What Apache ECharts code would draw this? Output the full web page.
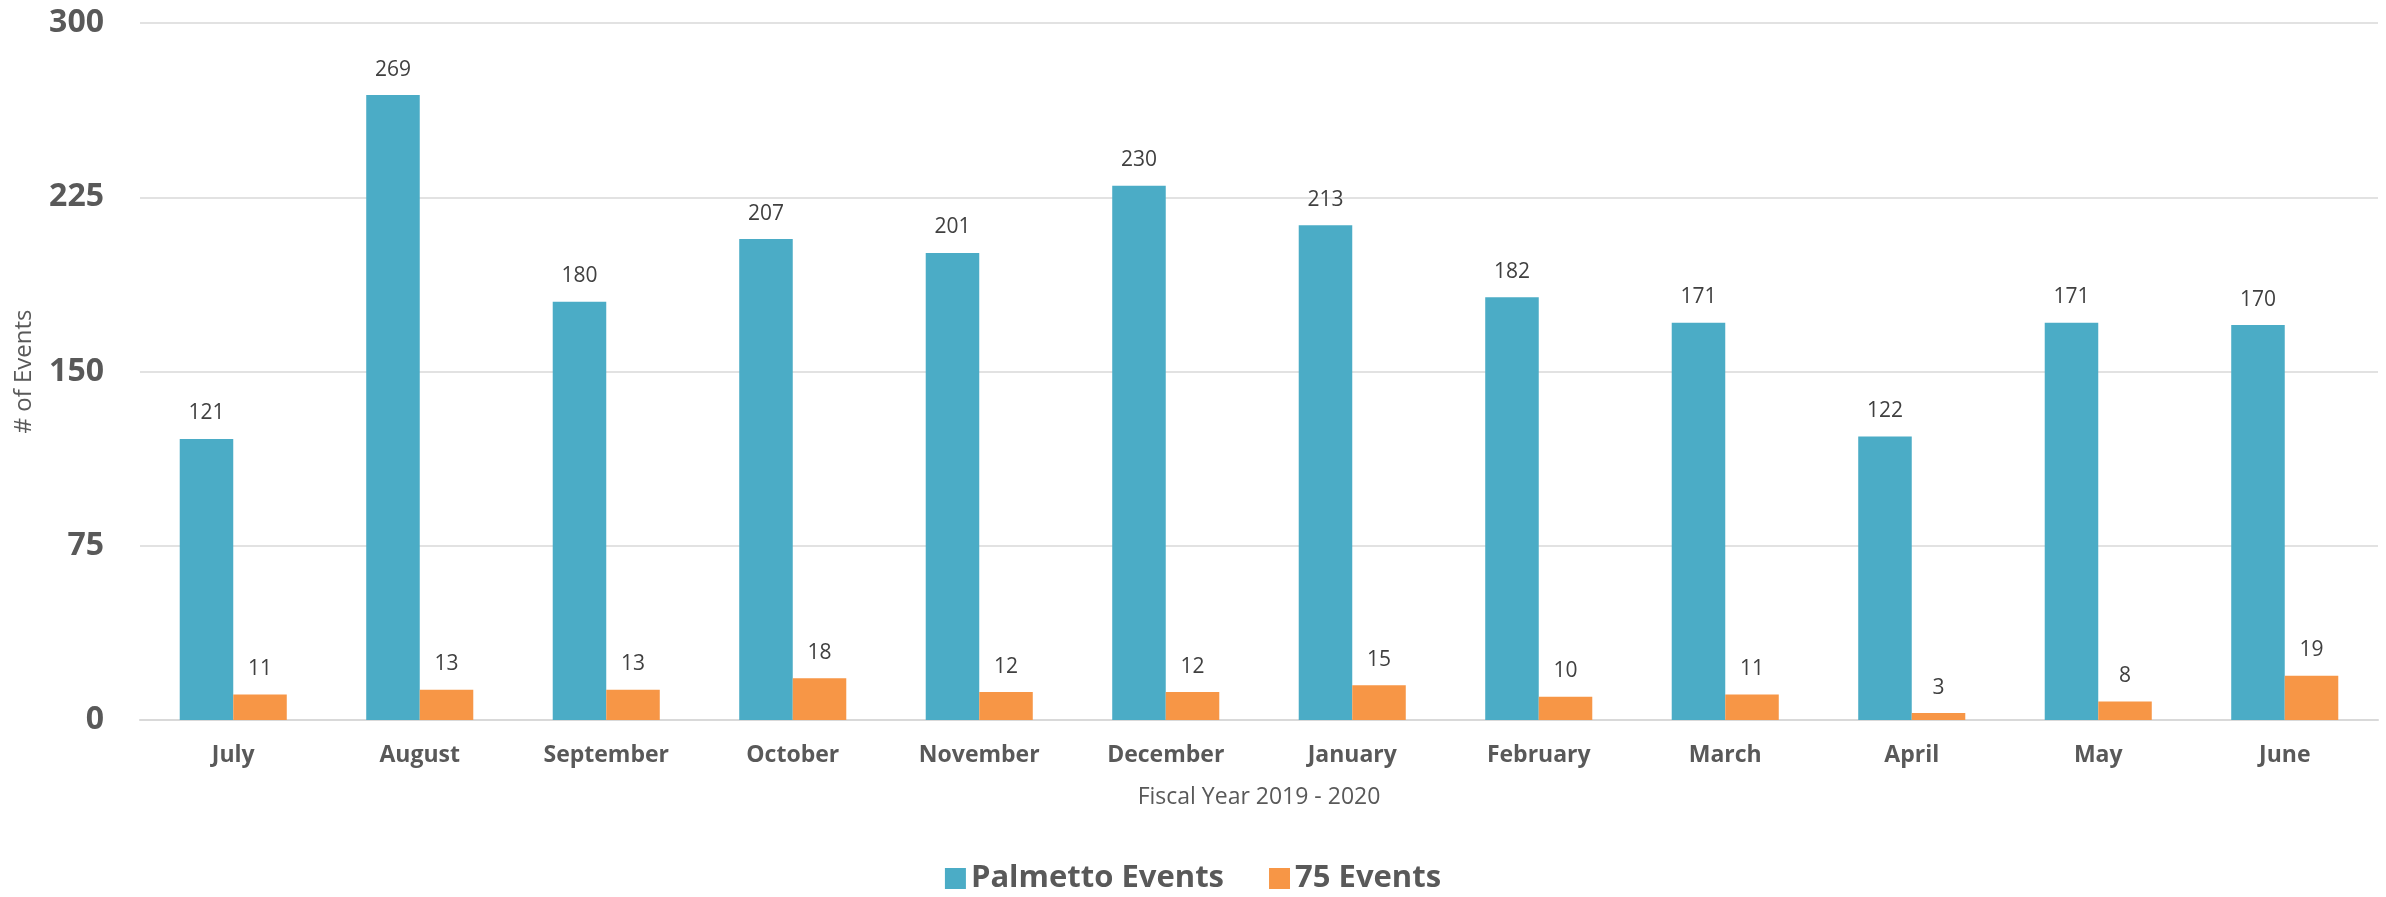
<!DOCTYPE html>
<html>
<head>
<meta charset="utf-8">
<script src="https://cdn.jsdelivr.net/npm/echarts@6/dist/echarts.min.js"></script>
<style>
html,body{margin:0;padding:0;background:#fff;}
#chart{width:2386px;height:897px;}
</style>
</head>
<body>
<div id="chart"></div>
<script>
const categories = ['July','August','September','October','November','December','January','February','March','April','May','June'];
const palmettoEvents = [121,269,180,207,201,230,213,182,171,122,171,170];
const events75 = [11,13,13,18,12,12,15,10,11,3,8,19];
const yTicks = [0,75,150,225,300];

const FONT = '"Open Sans", "Noto Sans", sans-serif';
const TXT = '#595959';

const chart = echarts.init(document.getElementById('chart'), null, {renderer:'canvas'});
chart.setOption({
  animation:false,
  backgroundColor:'#ffffff',
  textStyle:{fontFamily:FONT},
  grid:{left:140,right:8,top:23,bottom:177,containLabel:false},
  legend:{
    data:['Palmetto Events','75 Events'],
    left:'center', top:858,
    icon:'rect', itemWidth:21, itemHeight:21, itemGap:45,
    textStyle:{fontFamily:FONT,fontSize:31,fontWeight:'bold',color:TXT,padding:[0,0,0,0]}
  },
  xAxis:{
    type:'category',
    data:categories,
    name:'Fiscal Year 2019 - 2020',
    nameLocation:'middle',
    nameGap:66,
    nameTextStyle:{fontFamily:FONT,fontSize:23,color:TXT},
    axisLine:{show:true,lineStyle:{color:'#d9d9d9',width:2}},
    axisTick:{show:false},
    axisLabel:{fontFamily:FONT,fontSize:23,fontWeight:'bold',color:TXT,margin:24}
  },
  yAxis:{
    type:'value',
    min:yTicks[0], max:yTicks[yTicks.length-1], interval:75,
    name:'# of Events',
    nameLocation:'middle',
    nameGap:104,
    nameTextStyle:{fontFamily:FONT,fontSize:24,color:TXT},
    axisLine:{show:false},
    axisTick:{show:false},
    axisLabel:{fontFamily:FONT,fontSize:32,fontWeight:'bold',color:TXT,margin:36},
    splitLine:{lineStyle:{color:'#d9d9d9',width:1.5}}
  },
  series:[
    {
      name:'Palmetto Events', type:'bar', data:palmettoEvents,
      barWidth:'28.7%', barGap:'0%',
      itemStyle:{color:'#4BACC6'},
      label:{show:true,position:'top',distance:15,fontFamily:FONT,fontSize:21,color:'#404040'}
    },
    {
      name:'75 Events', type:'bar', data:events75,
      barWidth:'28.7%', barGap:'0%',
      itemStyle:{color:'#F79646'},
      label:{show:true,position:'top',distance:15,fontFamily:FONT,fontSize:21,color:'#404040'}
    }
  ]
});
</script>
</body>
</html>
